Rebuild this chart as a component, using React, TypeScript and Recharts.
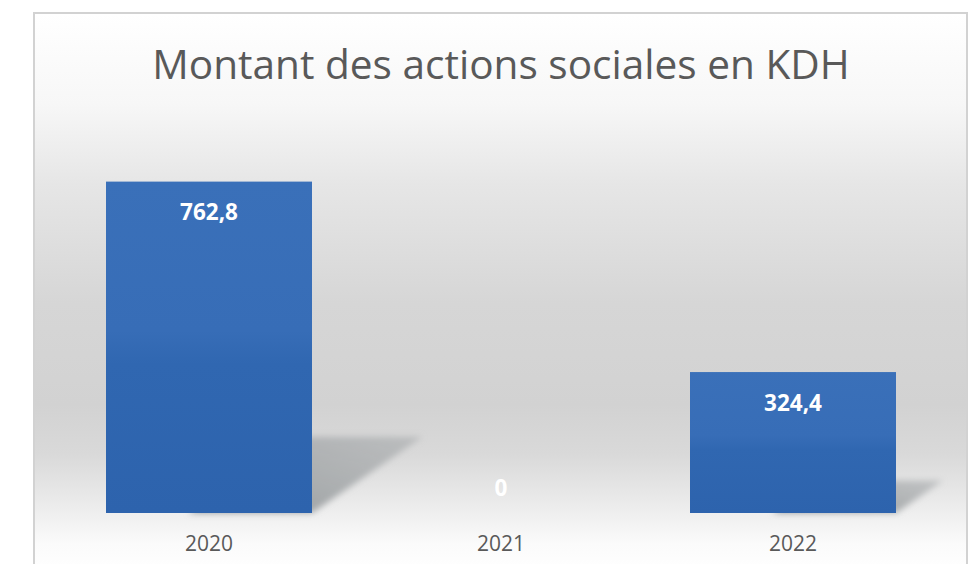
import * as React from "react";
import { Bar, BarChart, LabelList, XAxis, YAxis } from "recharts";

const years = ["2020", "2021", "2022"];
const amounts = [762.8, 0, 324.4];

const data = years.map((year, i) => ({ year, amount: amounts[i] }));

const FONT = "'Open Sans', sans-serif";

function fmt(v: number): string {
  return String(v).replace(".", ",");
}

// bar with a skewed floor shadow, like the office "perspective" effect
function ShadowBar(props: any) {
  const { x, y, width, height } = props;
  if (!height || height <= 0) return null;
  const bottom = y + height;
  const sh = height * 0.23;
  const skew = sh * 1.45;
  const pts = [
    [x + width * 0.4, bottom],
    [x + width, bottom],
    [x + width + skew, bottom - sh],
    [x + width * 0.4 + skew, bottom - sh],
  ]
    .map((p) => p.join(","))
    .join(" ");
  return (
    <g>
      <polygon points={pts} fill="url(#shadowFill)" filter="url(#shadowBlur)" />
      <rect x={x} y={y} width={width} height={height} fill="url(#barFill)" />
    </g>
  );
}

function ValueLabel(props: any) {
  const { x, y, width, height, value } = props;
  const cy = height > 0 ? y + 30 : y - 26;
  return (
    <text
      x={x + width / 2}
      y={cy}
      textAnchor="middle"
      dominantBaseline="central"
      fill="#ffffff"
      fontFamily={FONT}
      fontWeight={700}
      fontSize={22.5}
    >
      {fmt(value)}
    </text>
  );
}

function YearTick(props: any) {
  const { x, payload } = props;
  return (
    <text
      x={x}
      y={543}
      textAnchor="middle"
      dominantBaseline="central"
      fill="#595959"
      fontFamily={FONT}
      fontSize={21}
    >
      {payload.value}
    </text>
  );
}

export default function App() {
  return (
    <div
      style={{
        position: "fixed",
        left: 0,
        top: 0,
        width: 976,
        height: 564,
        overflow: "hidden",
        background: "#ffffff",
      }}
    >
      <div
        style={{
          position: "absolute",
          left: 33,
          top: 12,
          width: 931,
          height: 600,
          border: "2px solid #d2d2d2",
          background:
            "linear-gradient(to bottom, #ffffff 0px, #f7f7f7 90px, #e6e6e6 170px, #d6d6d6 290px, #d2d2d2 390px, #d9d9d9 440px, #ebebeb 490px, #fbfbfb 530px, #ffffff 560px)",
        }}
      />
      <div
        style={{
          position: "absolute",
          left: 13,
          width: 976,
          top: 38,
          textAlign: "center",
          fontFamily: FONT,
          fontSize: 40.6,
          color: "#595959",
          lineHeight: "52px",
        }}
      >
        Montant des actions sociales en KDH
      </div>
      <div style={{ position: "absolute", left: 0, top: 0 }}>
        <BarChart
          width={976}
          height={564}
          data={data}
          margin={{ top: 122, right: 37, bottom: 21, left: 63 }}
          barCategoryGap={43}
        >
          <defs>
            <linearGradient id="barFill" x1="0" y1="0" x2="0" y2="1">
              <stop offset="0%" stopColor="#3a70b9" />
              <stop offset="45%" stopColor="#376db7" />
              <stop offset="55%" stopColor="#3067b1" />
              <stop offset="100%" stopColor="#2d63ad" />
            </linearGradient>
            <linearGradient id="shadowFill" x1="0" y1="1" x2="1" y2="0">
              <stop offset="0%" stopColor="#8f9496" stopOpacity={0.95} />
              <stop offset="100%" stopColor="#a9acae" stopOpacity={0.6} />
            </linearGradient>
            <filter id="shadowBlur" x="-20%" y="-20%" width="140%" height="140%">
              <feGaussianBlur stdDeviation="3" />
            </filter>
          </defs>
          <XAxis
            dataKey="year"
            axisLine={false}
            tickLine={false}
            tick={<YearTick />}
            interval={0}
            height={30}
          />
          <YAxis hide domain={[0, 900]} />
          <Bar dataKey="amount" shape={<ShadowBar />} isAnimationActive={false}>
            <LabelList dataKey="amount" content={<ValueLabel />} />
          </Bar>
        </BarChart>
      </div>
    </div>
  );
}
